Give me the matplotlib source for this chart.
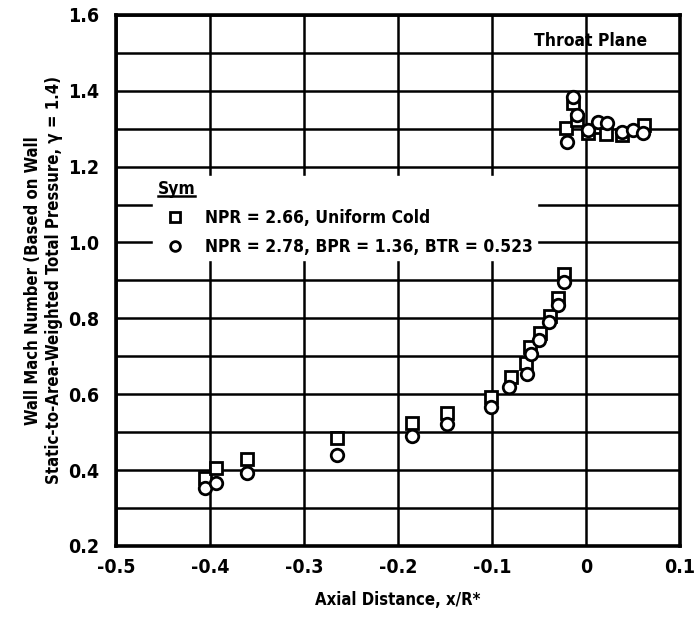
import matplotlib
matplotlib.use("Agg")
import matplotlib.pyplot as plt
from matplotlib.lines import Line2D
import numpy as np

plt.rcParams['font.family'] = ['DejaVu Sans']
plt.rcParams['font.stretch'] = 'condensed'
plt.rcParams['font.weight'] = 'bold'
plt.rcParams['axes.labelweight'] = 'bold'
plt.rcParams['axes.unicode_minus'] = False

# NPR = 2.66, uniform cold (squares)
sq_x = [-0.405, -0.393, -0.361, -0.265, -0.185, -0.148, -0.101, -0.080,
        -0.064, -0.059, -0.049, -0.038, -0.030, -0.023,
        -0.021, -0.014, -0.009, 0.002, 0.014, 0.021, 0.038, 0.062]
sq_y = [0.379, 0.406, 0.429, 0.485, 0.524, 0.551, 0.593, 0.645,
        0.683, 0.725, 0.762, 0.806, 0.854, 0.917,
        1.302, 1.368, 1.323, 1.289, 1.305, 1.287, 1.284, 1.310]

# NPR = 2.78, BPR = 1.36, BTR = 0.523 (circles)
ci_x = [-0.405, -0.393, -0.361, -0.265, -0.185, -0.148, -0.101, -0.082,
        -0.063, -0.058, -0.050, -0.039, -0.030, -0.023,
        -0.020, -0.014, -0.009, 0.002, 0.013, 0.022, 0.038, 0.050, 0.061]
ci_y = [0.353, 0.366, 0.392, 0.440, 0.490, 0.522, 0.566, 0.620,
        0.652, 0.705, 0.743, 0.790, 0.835, 0.896,
        1.265, 1.384, 1.336, 1.297, 1.318, 1.315, 1.290, 1.297, 1.289]

x_ticks = [-0.5, -0.4, -0.3, -0.2, -0.1, 0.0, 0.1]
x_labels = ['-0.5', '-0.4', '-0.3', '-0.2', '-0.1', '0', '0.1']
y_ticks = [0.2, 0.4, 0.6, 0.8, 1.0, 1.2, 1.4, 1.6]
y_labels = ['0.2', '0.4', '0.6', '0.8', '1.0', '1.2', '1.4', '1.6']

fig = plt.figure(figsize=(6.98, 6.19), dpi=100)
ax = fig.add_axes([0.166, 0.118, 0.808, 0.858])

ax.set_xlim(-0.5, 0.1)
ax.set_ylim(0.2, 1.6)
ax.set_xticks(x_ticks)
ax.set_xticklabels(x_labels)
ax.set_yticks(y_ticks)
ax.set_yticklabels(y_labels)
ax.set_yticks(np.arange(0.3, 1.6, 0.2), minor=True)
ax.grid(True, which='both', color='black', lw=1.8, zorder=0)
ax.tick_params(which='both', length=0, labelsize=14)
ax.tick_params(axis='y', pad=12)
ax.tick_params(axis='x', pad=9)
for s in ax.spines.values():
    s.set_linewidth(2.6)

mk = dict(ls='none', markersize=9, markerfacecolor='white',
          markeredgecolor='black', markeredgewidth=2.0, zorder=3)
ax.plot(sq_x, sq_y, marker='s', **mk)
ax.plot(ci_x, ci_y, marker='o', **mk)

handles = [Line2D([], [], marker='s', **{**mk, 'markersize': 7}),
           Line2D([], [], marker='o', **{**mk, 'markersize': 7})]
leg = ax.legend(handles, ['NPR = 2.66, Uniform Cold',
                          'NPR = 2.78, BPR = 1.36, BTR = 0.523'],
                title='Sym', alignment='left', loc='upper left',
                bbox_to_anchor=(0.066, 0.697), frameon=True, fancybox=False,
                framealpha=1, edgecolor='white', facecolor='white',
                fontsize=12.5, title_fontsize=12.5, handlelength=2.0,
                handletextpad=0.75, borderpad=0.25, labelspacing=0.62,
                borderaxespad=0)
leg.get_title().set_fontweight('bold')
ax.plot([0.075, 0.14], [0.658, 0.658], transform=ax.transAxes,
        color='black', lw=1.8, zorder=6, clip_on=False)

ax.text(0.005, 1.53, 'Throat Plane', ha='center', va='center', fontsize=12.5)

ax.set_xlabel('Axial Distance, x/R*', fontsize=12, labelpad=10)
ax.set_ylabel('Wall Mach Number (Based on Wall\n'
              'Static-to-Area-Weighted Total Pressure, γ = 1.4)',
              fontsize=12, labelpad=4)

fig.savefig('out.png', dpi=100, facecolor='white')
